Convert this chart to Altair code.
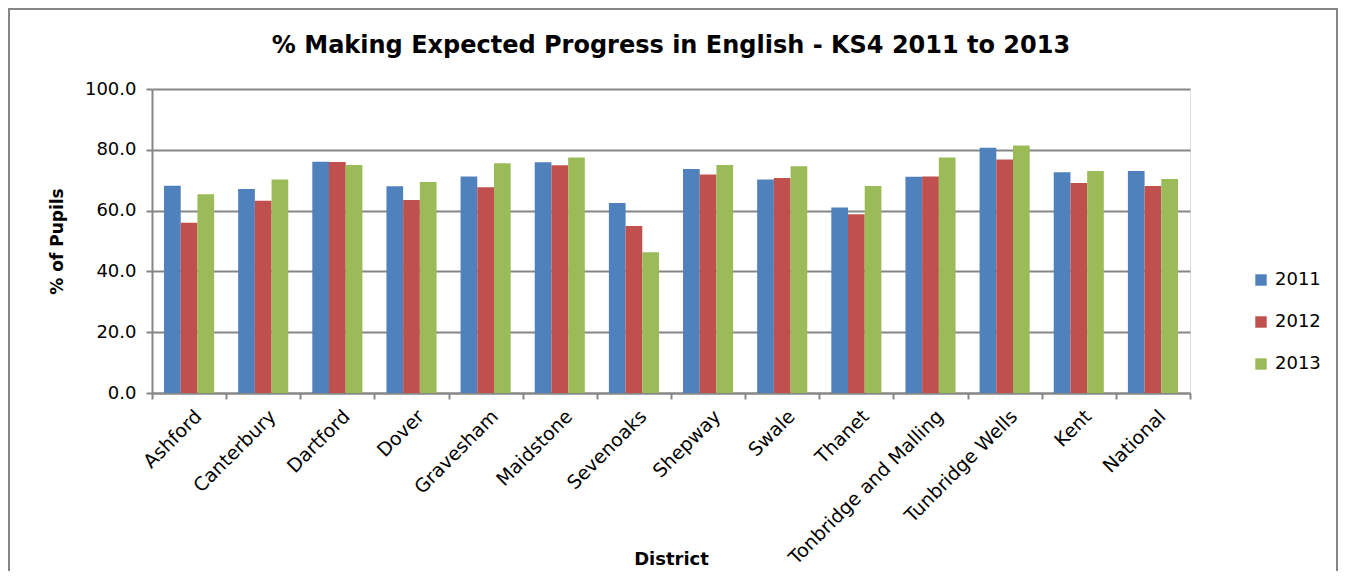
import altair as alt
import pandas as pd

districts = ["Ashford", "Canterbury", "Dartford", "Dover", "Gravesham", "Maidstone",
             "Sevenoaks", "Shepway", "Swale", "Thanet", "Tonbridge and Malling",
             "Tunbridge Wells", "Kent", "National"]
years = ["2011", "2012", "2013"]
v2011 = [68.2, 67.1, 76.1, 68.0, 71.2, 75.9, 62.5, 73.7, 70.2, 61.0, 71.1, 80.7, 72.6, 73.0]
v2012 = [56.0, 63.2, 76.0, 63.5, 67.7, 74.9, 54.9, 71.9, 70.7, 58.8, 71.2, 76.8, 69.1, 68.1]
v2013 = [65.4, 70.2, 75.0, 69.4, 75.6, 77.5, 46.3, 75.0, 74.6, 68.1, 77.5, 81.4, 73.0, 70.4]
colors = ["#4F81BD", "#C0504D", "#9BBB59"]

rows = []
for i, d in enumerate(districts):
    for y, vals in zip(years, [v2011, v2012, v2013]):
        rows.append({"District": d, "Year": y, "Value": vals[i]})
df = pd.DataFrame(rows)

FONT = "DejaVu Sans"
GRAY = "#868686"

bars = alt.Chart(df).mark_bar().encode(
    x=alt.X("District:N", sort=districts,
            scale=alt.Scale(paddingInner=0, paddingOuter=0),
            axis=alt.Axis(title="District", labelAngle=-45, labelAlign="right",
                          labelBaseline="middle", labelFontSize=19, labelFont=FONT,
                          labelColor="black", labelPadding=14, labelOffset=9,
                          labelLimit=0,
                          titleFont=FONT, titleFontSize=18, titleFontWeight="bold",
                          titleColor="black", titleY=157, titleBaseline="top",
                          tickBand="extent", tickSize=6, tickColor=GRAY, tickWidth=2,
                          domainColor=GRAY, domainWidth=2, grid=False)),
    xOffset=alt.XOffset("Year:N", sort=years,
                        scale=alt.Scale(paddingInner=0, paddingOuter=0.72)),
    y=alt.Y("Value:Q", scale=alt.Scale(domain=[0, 100], nice=False),
            axis=alt.Axis(title="% of Pupils", values=[0, 20, 40, 60, 80, 100],
                          format=".1f", labelFontSize=18, labelFont=FONT,
                          labelColor="black", labelPadding=10,
                          titleFont=FONT, titleFontSize=17, titleFontWeight="bold",
                          titleColor="black", titlePadding=18,
                          tickSize=6, tickColor=GRAY, tickWidth=2,
                          domainColor=GRAY, domainWidth=2,
                          gridColor=GRAY, gridWidth=2)),
    color=alt.Color("Year:N", sort=years,
                    scale=alt.Scale(domain=years, range=colors),
                    legend=alt.Legend(title=None, orient="none", legendX=1100, legendY=182,
                                      symbolType="square", symbolSize=130,
                                      symbolStrokeWidth=0, labelFontSize=18,
                                      labelFont=FONT, labelColor="black",
                                      rowPadding=24, labelOffset=5, padding=0)),
)

frame = alt.Chart(pd.DataFrame({"a": [0]})).mark_rect(
    fill="transparent", stroke=GRAY, strokeWidth=2, clip=False
).encode(
    x=alt.value(-143), x2=alt.value(1185), y=alt.value(-80), y2=alt.value(520)
)

chart = alt.layer(frame, bars).properties(
    width=1038, height=304,
    title=alt.Title("% Making Expected Progress in English - KS4 2011 to 2013",
                    font=FONT, fontSize=24, fontWeight="bold", color="black",
                    anchor="middle", frame="group", offset=0, dy=50),
    autosize=alt.AutoSizeParams(type="none"),
    padding={"left": 144, "top": 81, "right": 148, "bottom": 178},
).configure_view(stroke="transparent", strokeWidth=0).configure(background="white")

chart.save("out.html", embed_options={"renderer": "svg", "actions": False})
